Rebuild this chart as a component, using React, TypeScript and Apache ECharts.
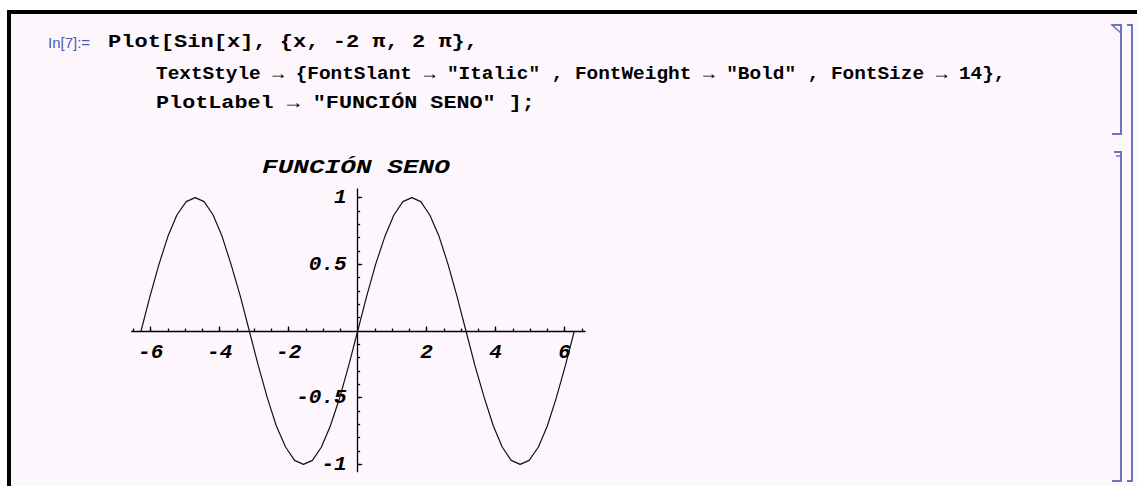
import React, { useEffect, useRef } from "react";
import * as echarts from "echarts";

// Sampled points of the plotted curve (x, y)
const CURVE_X = [
  -6.28, -6.02, -5.76, -5.5, -5.24, -4.97, -4.71, -4.45, -4.19, -3.93, -3.67, -3.4,
  -3.14, -2.88, -2.62, -2.36, -2.09, -1.83, -1.57, -1.31, -1.05, -0.79, -0.52, -0.26,
  0, 0.26, 0.52, 0.79, 1.05, 1.31, 1.57, 1.83, 2.09, 2.36, 2.62, 2.88,
  3.14, 3.4, 3.67, 3.93, 4.19, 4.45, 4.71, 4.97, 5.24, 5.5, 5.76, 6.02, 6.28,
];
const CURVE_Y = [
  0, 0.26, 0.5, 0.71, 0.87, 0.97, 1, 0.97, 0.87, 0.71, 0.5, 0.26,
  0, -0.26, -0.5, -0.71, -0.87, -0.97, -1, -0.97, -0.87, -0.71, -0.5, -0.26,
  0, 0.26, 0.5, 0.71, 0.87, 0.97, 1, 0.97, 0.87, 0.71, 0.5, 0.26,
  0, -0.26, -0.5, -0.71, -0.87, -0.97, -1, -0.97, -0.87, -0.71, -0.5, -0.26, 0,
];

// Axis ticks and labels
const X_MAJOR_TICKS = [-6, -4, -2, 2, 4, 6];
const X_MINOR_TICKS = [
  -6.5, -6, -5.5, -5, -4.5, -4, -3.5, -3, -2.5, -2, -1.5, -1, -0.5,
  0.5, 1, 1.5, 2, 2.5, 3, 3.5, 4, 4.5, 5, 5.5, 6, 6.5,
];
const Y_MAJOR_TICKS = [-1, -0.5, 0.5, 1];
const Y_MINOR_TICKS = [
  -1, -0.9, -0.8, -0.7, -0.6, -0.5, -0.4, -0.3, -0.2, -0.1,
  0.1, 0.2, 0.3, 0.4, 0.5, 0.6, 0.7, 0.8, 0.9, 1,
];

// Notebook texts
const PLOT_TITLE = "FUNCIÓN SENO";
const PROMPT = "In[7]:=";
const CODE_LINES = [
  "Plot[Sin[x], {x, -2 π, 2 π},",
  'TextStyle → {FontSlant → "Italic" , FontWeight → "Bold" , FontSize → 14},',
  'PlotLabel → "FUNCIÓN SENO" ];',
];

const W = 1137;
const H = 486;
const MONO = "'Liberation Mono', 'DejaVu Sans Mono', monospace";
const BRACKET = "#6d75ba";

// plot frame and ranges
const GRID = { left: 131.7, top: 189, width: 453.3, height: 282.7 };
const X_RANGE = [-6.55, 6.59];
const Y_RANGE = [-1.055, 1.065];

export default function App() {
  const ref = useRef<HTMLDivElement>(null);

  useEffect(() => {
    if (!ref.current) return;
    const chart = echarts.init(ref.current, null, { renderer: "svg" });

    // axes cross at the origin: shift them from the frame edges to zero
    const zeroFromBottom = (GRID.height * (0 - Y_RANGE[0])) / (Y_RANGE[1] - Y_RANGE[0]);
    const zeroFromLeft = (GRID.width * (0 - X_RANGE[0])) / (X_RANGE[1] - X_RANGE[0]);
    const xOffset = -zeroFromBottom;
    const yOffset = -zeroFromLeft;

    const codeFont = 18;
    const codeLayout = [
      { x: 108, y: 42, w: 370 },
      { x: 156, y: 74, w: 850 },
      { x: 156, y: 103, w: 379 },
    ];
    const codeTexts = CODE_LINES.map((t, i) => {
      const l = codeLayout[i];
      const natural = t.length * 0.6 * codeFont;
      return {
        type: "text",
        x: l.x,
        y: l.y,
        scaleX: l.w / natural,
        style: {
          text: t,
          font: `bold ${codeFont}px ${MONO}`,
          fill: "#000",
          textVerticalAlign: "middle",
        },
      };
    });

    const titleFont = 21;
    const titleWidth = 188;

    const axisLabelStyle = {
      fontFamily: MONO,
      fontWeight: "bold" as const,
      fontStyle: "italic" as const,
      fontSize: 21,
      color: "#000",
    };
    const axisInk = { color: "#000", width: 1.3 };

    chart.setOption({
      animation: false,
      backgroundColor: "#fdf7fd",
      grid: { ...GRID, containLabel: false, outerBoundsMode: "none" },
      xAxis: [
        {
          type: "value",
          position: "bottom",
          offset: xOffset,
          min: X_RANGE[0],
          max: X_RANGE[1],
          axisLine: { show: true, onZero: false, lineStyle: axisInk },
          axisTick: { show: true, inside: true, length: 4.5, customValues: X_MAJOR_TICKS, lineStyle: axisInk },
          axisLabel: { show: true, margin: 11, customValues: X_MAJOR_TICKS, ...axisLabelStyle },
          splitLine: { show: false },
        },
        {
          type: "value",
          position: "bottom",
          offset: xOffset,
          min: X_RANGE[0],
          max: X_RANGE[1],
          axisLine: { show: false, onZero: false },
          axisTick: { show: true, inside: true, length: 2.5, customValues: X_MINOR_TICKS, lineStyle: axisInk },
          axisLabel: { show: false },
          splitLine: { show: false },
        },
      ],
      yAxis: [
        {
          type: "value",
          position: "left",
          offset: yOffset,
          min: Y_RANGE[0],
          max: Y_RANGE[1],
          axisLine: { show: true, onZero: false, lineStyle: axisInk },
          axisTick: { show: true, inside: true, length: 4.5, customValues: Y_MAJOR_TICKS, lineStyle: axisInk },
          axisLabel: { show: true, margin: 11, customValues: Y_MAJOR_TICKS, ...axisLabelStyle },
          splitLine: { show: false },
        },
        {
          type: "value",
          position: "left",
          offset: yOffset,
          min: Y_RANGE[0],
          max: Y_RANGE[1],
          axisLine: { show: false, onZero: false },
          axisTick: { show: true, inside: true, length: 2.5, customValues: Y_MINOR_TICKS, lineStyle: axisInk },
          axisLabel: { show: false },
          splitLine: { show: false },
        },
      ],
      series: [
        {
          type: "line",
          xAxisIndex: 0,
          yAxisIndex: 0,
          data: CURVE_X.map((x, i) => [x, CURVE_Y[i]]),
          showSymbol: false,
          symbol: "none",
          lineStyle: { color: "#111", width: 1.2 },
          z: 3,
        },
      ],
      graphic: [
        // page margin outside the notebook window
        { type: "rect", shape: { x: 0, y: 0, width: W, height: 10 }, style: { fill: "#fff" }, silent: true },
        { type: "rect", shape: { x: 0, y: 0, width: 7, height: H }, style: { fill: "#fff" }, silent: true },
        // window frame
        { type: "rect", shape: { x: 7, y: 10, width: W - 7, height: 4 }, style: { fill: "#000" }, silent: true },
        { type: "rect", shape: { x: 7, y: 10, width: 4, height: H - 10 }, style: { fill: "#000" }, silent: true },
        // input prompt and code
        {
          type: "text",
          x: 48,
          y: 42,
          style: {
            text: PROMPT,
            font: `15px 'Liberation Sans', Arial, sans-serif`,
            fill: "#4d5aa6",
            textVerticalAlign: "middle",
          },
        },
        ...codeTexts,
        // plot label
        {
          type: "text",
          x: 262,
          y: 167,
          scaleX: titleWidth / (PLOT_TITLE.length * 0.6 * titleFont),
          style: {
            text: PLOT_TITLE,
            font: `italic bold ${titleFont}px ${MONO}`,
            fill: "#000",
            textVerticalAlign: "middle",
          },
        },
        // cell brackets
        {
          type: "polyline",
          shape: { points: [[1112, 25], [1121, 25], [1121, 134], [1112, 134]] },
          style: { stroke: BRACKET, lineWidth: 2, fill: "none" },
        },
        {
          type: "polygon",
          shape: { points: [[1112, 25], [1121, 25], [1121, 33]] },
          style: { stroke: BRACKET, lineWidth: 1.5, fill: "none" },
        },
        {
          type: "polyline",
          shape: { points: [[1114, 152], [1121, 152], [1121, 481], [1112, 481]] },
          style: { stroke: BRACKET, lineWidth: 2, fill: "none" },
        },
        {
          type: "line",
          shape: { x1: 1116, y1: 156, x2: 1121, y2: 156 },
          style: { stroke: BRACKET, lineWidth: 1.5 },
        },
        {
          type: "polyline",
          shape: { points: [[1127, 25], [1132, 25], [1132, 481], [1127, 481]] },
          style: { stroke: BRACKET, lineWidth: 2, fill: "none" },
        },
      ],
    });

    return () => chart.dispose();
  }, []);

  return (
    <div
      ref={ref}
      style={{ position: "fixed", left: 0, top: 0, width: W, height: H }}
    />
  );
}
